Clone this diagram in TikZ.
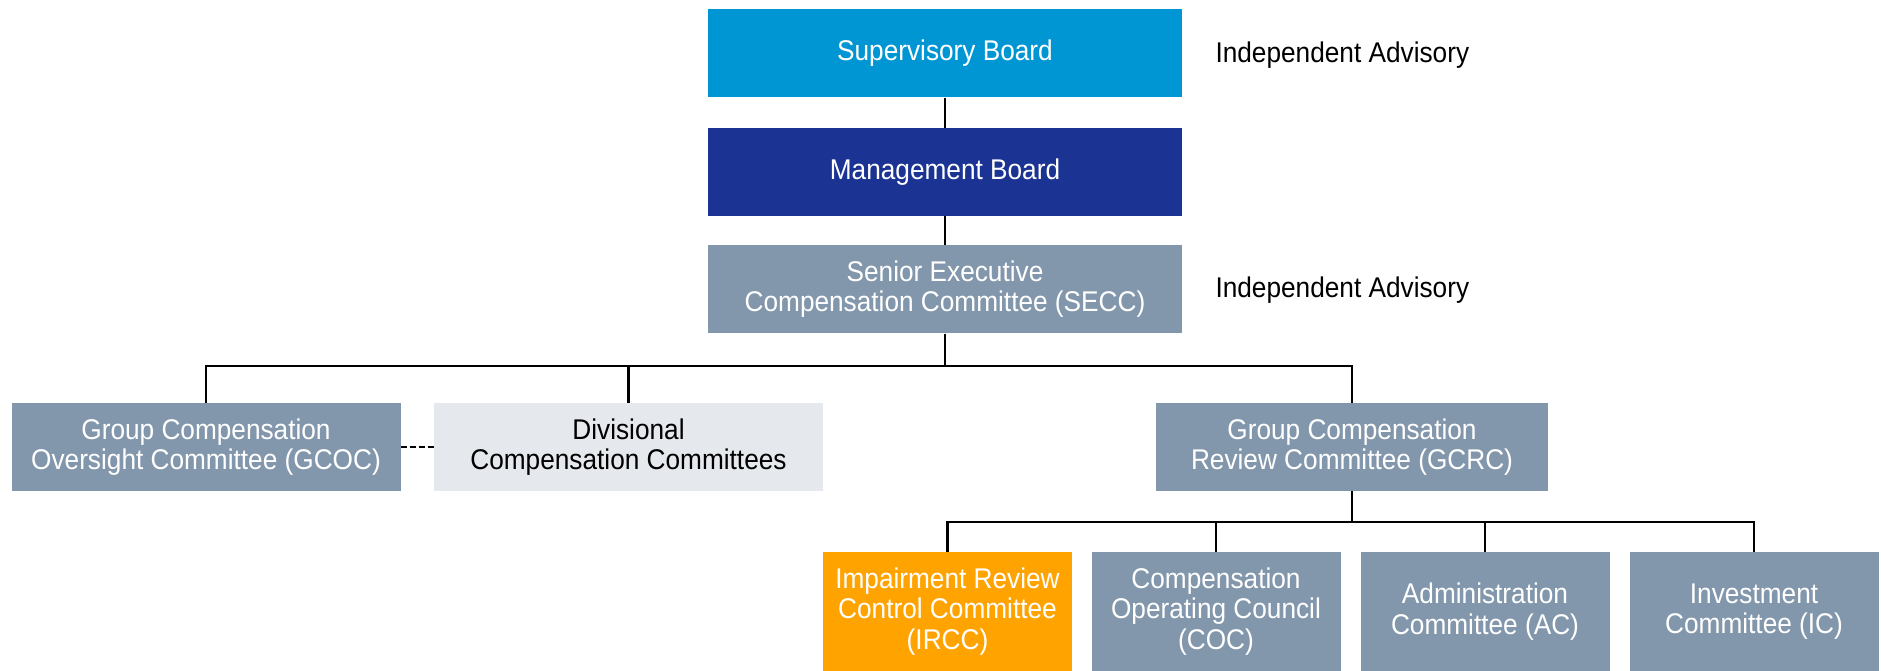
\documentclass[tikz,border=0pt]{standalone}
\usepackage{fontspec}
\setmainfont[FakeStretch=0.92]{Liberation Sans}
\usetikzlibrary{positioning,calc}

\definecolor{supblue}{HTML}{0095D3}
\definecolor{mgtblue}{HTML}{1B3393}
\definecolor{comgray}{HTML}{8297AC}
\definecolor{divgray}{HTML}{E5E8ED}
\definecolor{irorange}{HTML}{FFA300}

\begin{document}
\begin{tikzpicture}[x=1pt,y=-1pt,
    font=\fontsize{28.5}{30.5}\selectfont,
    box/.style={rectangle,inner sep=0pt,align=center,text=white,
                minimum width=474pt,minimum height=88pt},
    midbox/.style={box,fill=comgray,minimum width=389pt},
    lowbox/.style={box,fill=comgray,minimum width=249pt,minimum height=119pt},
    link/.style={draw=black,line width=2.4pt}]

  \useasboundingbox (0,0) rectangle (1881,671);

  % top column
  \node[box,fill=supblue] (sup) at (945,53.5) {Supervisory Board};
  \node[box,fill=mgtblue,below=30pt of sup] (mgt) {Management Board};
  \node[box,fill=comgray,below=29pt of mgt] (secc)
       {Senior Executive\\Compensation Committee (SECC)};

  \node[anchor=west] (adva) at (1212,55) {Independent Advisory};
  \node[anchor=west] (advb) at (1212,290) {Independent Advisory};

  % committees
  \node[midbox] (gcoc) at (206,447)
       {Group Compensation\\Oversight Committee (GCOC)};
  \node[midbox,fill=divgray,text=black] (dcc) at (628.5,447)
       {Divisional\\Compensation Committees};
  \node[midbox,minimum width=392pt] (gcrc) at (1352,447)
       {Group Compensation\\Review Committee (GCRC)};

  \node[lowbox,fill=irorange] (ircc) at (947.5,611.5)
       {Impairment Review\\Control Committee\\(IRCC)};
  \node[lowbox] (coc) at (1216,611.5)
       {Compensation\\Operating Council\\(COC)};
  \node[lowbox] (ac) at (1485,611.5)
       {Administration\\Committee (AC)};
  \node[lowbox] (ic) at (1754,611.5)
       {Investment\\Committee (IC)};

  \draw[link] (sup) -- (mgt);
  \draw[link] (mgt) -- (secc);

  \coordinate (busa) at (secc.south |- 0,366);
  \foreach \n in {gcoc,dcc,gcrc}
    \draw[link] (secc.south) -- (busa) -| (\n.north);

  \coordinate (busb) at (gcrc.south |- 0,522);
  \foreach \n in {ircc,coc,ac,ic}
    \draw[link] (gcrc.south) -- (busb) -| (\n.north);

  \draw[link,dash pattern=on 6pt off 3pt] (gcoc) -- (dcc);

\end{tikzpicture}
\end{document}
